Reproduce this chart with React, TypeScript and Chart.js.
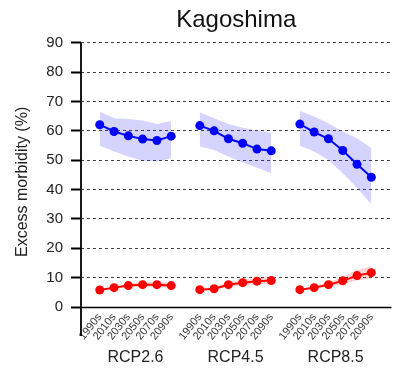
import React, { useEffect, useRef } from "react";
import { Chart, registerables } from "chart.js";

Chart.register(...registerables);

const decades = ["1990s", "2010s", "2030s", "2050s", "2070s", "2090s"];
const scenarios = ["RCP2.6", "RCP4.5", "RCP8.5"];
const yTicks = [0, 10, 20, 30, 40, 50, 60, 70, 80, 90];

// Blue series: central estimate and range, per scenario
const blueMean26 = [62.1, 59.8, 58.3, 57.2, 56.7, 58.2];
const blueMean45 = [61.8, 60.0, 57.3, 55.8, 53.8, 53.2];
const blueMean85 = [62.3, 59.6, 57.3, 53.3, 48.6, 44.2];
const blueHigh26 = [66.6, 64.3, 64.0, 63.5, 62.3, 63.4];
const blueHigh45 = [66.3, 64.3, 62.3, 61.1, 60.1, 59.4];
const blueHigh85 = [66.8, 64.9, 62.6, 59.8, 57.5, 54.2];
const blueLow26 = [54.9, 53.0, 51.3, 49.8, 49.6, 50.7];
const blueLow45 = [54.7, 53.5, 51.3, 49.2, 47.5, 45.6];
const blueLow85 = [54.9, 53.0, 50.1, 45.6, 40.5, 35.0];

// Red series: central estimate and range, per scenario
const redMean26 = [5.8, 6.6, 7.3, 7.6, 7.6, 7.3];
const redMean45 = [5.9, 6.2, 7.6, 8.3, 8.8, 9.0];
const redMean85 = [5.9, 6.6, 7.6, 8.9, 10.7, 11.7];
const redHigh26 = [6.0, 7.0, 8.0, 8.5, 8.6, 8.2];
const redHigh45 = [6.1, 6.7, 8.4, 9.4, 10.0, 10.3];
const redHigh85 = [6.1, 7.1, 8.4, 10.2, 12.6, 13.9];
const redLow26 = [5.6, 6.2, 6.7, 6.8, 6.7, 6.5];
const redLow45 = [5.7, 5.8, 6.9, 7.3, 7.7, 7.8];
const redLow85 = [5.7, 6.2, 6.9, 7.8, 9.0, 9.8];

const blueMeans = [blueMean26, blueMean45, blueMean85];
const blueHighs = [blueHigh26, blueHigh45, blueHigh85];
const blueLows = [blueLow26, blueLow45, blueLow85];
const redMeans = [redMean26, redMean45, redMean85];
const redHighs = [redHigh26, redHigh45, redHigh85];
const redLows = [redLow26, redLow45, redLow85];

// each scenario block takes 6 slots plus one empty slot between blocks
const SLOT = decades.length + 1;
const xOf = (g: number, i: number) => g * SLOT + i;
const xPositions: number[] = [];
scenarios.forEach((_, g) => decades.forEach((_, i) => xPositions.push(xOf(g, i))));

const FONT = "'Liberation Sans', Arial, Helvetica, sans-serif";
const Y_TITLE = "Excess morbidity (%)";

const toPoints = (vals: number[], g: number) => vals.map((v, i) => ({ x: xOf(g, i), y: v }));

function buildDatasets() {
  const sets: any[] = [];
  const addSeries = (means: number[][], highs: number[][], lows: number[][], color: string, band: string) => {
    scenarios.forEach((_, g) => {
      const lowIndex = sets.length;
      sets.push({
        data: toPoints(lows[g], g),
        borderWidth: 0,
        pointRadius: 0,
        fill: false,
        order: 2,
      });
      sets.push({
        data: toPoints(highs[g], g),
        borderWidth: 0,
        pointRadius: 0,
        backgroundColor: band,
        fill: lowIndex,
        order: 2,
      });
      sets.push({
        data: toPoints(means[g], g),
        borderColor: color,
        backgroundColor: color,
        borderWidth: 2,
        pointRadius: 4.5,
        pointBorderWidth: 0,
        pointBackgroundColor: color,
        fill: false,
        order: 0,
      });
    });
  };
  addSeries(blueMeans, blueHighs, blueLows, "#0000ff", "rgba(0,0,255,0.17)");
  addSeries(redMeans, redHighs, redLows, "#ff0000", "rgba(255,0,0,0.17)");
  return sets;
}

const axisDecor = {
  id: "axisDecor",
  afterDraw(chart: any) {
    const { ctx, chartArea, scales } = chart;
    const x = scales.x;
    const y = scales.y;
    ctx.save();
    // solid baseline at zero
    ctx.strokeStyle = "#000";
    ctx.lineWidth = 1.5;
    ctx.beginPath();
    const y0 = Math.round(y.getPixelForValue(0)) + 0.5;
    ctx.moveTo(chartArea.left, y0);
    ctx.lineTo(chartArea.right, y0);
    ctx.stroke();
    // vertical axis line running below the baseline
    ctx.lineWidth = 1.8;
    ctx.beginPath();
    ctx.moveTo(chartArea.left, y.getPixelForValue(90));
    ctx.lineTo(chartArea.left, chartArea.bottom + 29);
    ctx.stroke();
    // scenario names under each block
    ctx.fillStyle = "#222";
    ctx.font = `16px ${FONT}`;
    ctx.textAlign = "center";
    ctx.textBaseline = "alphabetic";
    scenarios.forEach((name, g) => {
      const cx = x.getPixelForValue(xOf(g, (decades.length - 1) / 2));
      ctx.fillText(name, cx, chartArea.bottom + 55);
    });
    // y-axis title
    ctx.translate(23, (chartArea.top + chartArea.bottom) / 2 + 7);
    ctx.rotate(-Math.PI / 2);
    ctx.font = `16px ${FONT}`;
    ctx.textBaseline = "middle";
    ctx.fillText(Y_TITLE, 0, 0);
    ctx.restore();
  },
};

export default function App() {
  const ref = useRef<HTMLCanvasElement | null>(null);

  useEffect(() => {
    if (!ref.current) return;
    const chart = new Chart(ref.current, {
      type: "line",
      data: { datasets: buildDatasets() },
      options: {
        animation: false,
        responsive: false,
        maintainAspectRatio: false,
        layout: { padding: 0 },
        plugins: {
          legend: { display: false },
          tooltip: { enabled: false },
          title: {
            display: true,
            text: "Kagoshima",
            fullSize: false,
            color: "#111",
            font: { family: FONT, size: 24, weight: "normal" },
            padding: { top: 6, bottom: 8 },
          },
        },
        scales: {
          x: {
            type: "linear",
            min: -1.31,
            max: 20.41,
            grid: { display: false, drawTicks: false },
            border: { display: false },
            afterBuildTicks: (scale: any) => {
              scale.ticks = xPositions.map((v) => ({ value: v }));
            },
            afterFit: (scale: any) => {
              scale.height = 64;
            },
            ticks: {
              autoSkip: false,
              minRotation: 52,
              maxRotation: 52,
              padding: 4,
              color: "#333",
              font: { family: FONT, size: 11 },
              callback: (value: any) => {
                const v = Number(value);
                const g = Math.floor(v / SLOT);
                const i = v - g * SLOT;
                return i >= 0 && i < decades.length ? decades[i] : "";
              },
            },
          },
          y: {
            type: "linear",
            min: 0,
            max: 90,
            afterBuildTicks: (scale: any) => {
              scale.ticks = yTicks.map((v) => ({ value: v }));
            },
            afterFit: (scale: any) => {
              scale.width = 81;
            },
            grid: {
              color: "#444",
              lineWidth: 1,
              tickColor: "#000",
              tickWidth: 2,
              tickLength: 10,
              borderDash: [3, 3],
            } as any,
            border: { display: false, dash: [3, 3] },
            ticks: {
              padding: 8,
              color: "#222",
              font: { family: FONT, size: 15 },
            },
            title: { display: false },
          },
        },
      },
      plugins: [axisDecor],
    });
    return () => chart.destroy();
  }, []);

  return (
    <div style={{ position: "absolute", left: 0, top: 0, width: 396, height: 371, background: "#fff" }}>
      <canvas ref={ref} width={396} height={371} style={{ display: "block" }} />
    </div>
  );
}
